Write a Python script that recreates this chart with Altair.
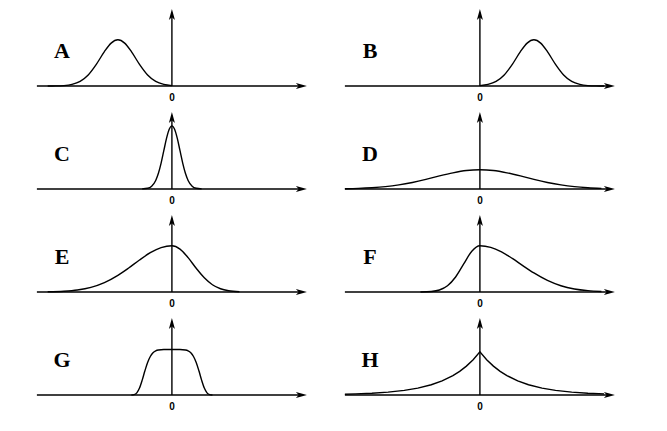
import altair as alt
import pandas as pd

# ---------------- data ----------------
panel_names = ["A", "B", "C", "D", "E", "F", "G", "H"]

A_x = [-4.6, -4.3, -4.0, -3.7, -3.4, -3.1, -2.8, -2.5, -2.25, -2.0, -1.75, -1.5, -1.2, -0.9, -0.6, -0.3, 0.0]
A_y = [0.0002, 0.001, 0.005, 0.020, 0.059, 0.143, 0.281, 0.446, 0.557, 0.6, 0.557, 0.446, 0.281, 0.143, 0.059, 0.020, 0.005]

B_x = [0.0, 0.3, 0.6, 0.9, 1.2, 1.5, 1.75, 2.0, 2.25, 2.5, 2.8, 3.1, 3.4, 3.7, 4.0, 4.3, 4.6]
B_y = [0.005, 0.020, 0.059, 0.143, 0.281, 0.446, 0.557, 0.6, 0.557, 0.446, 0.281, 0.143, 0.059, 0.020, 0.005, 0.001, 0.0002]

C_x = [-1.1, -0.9, -0.75, -0.6, -0.5, -0.4, -0.3, -0.2, -0.1, 0.0, 0.1, 0.2, 0.3, 0.4, 0.5, 0.6, 0.75, 0.9, 1.1]
C_y = [0.001, 0.009, 0.036, 0.111, 0.204, 0.337, 0.497, 0.657, 0.776, 0.82, 0.776, 0.657, 0.497, 0.337, 0.204, 0.111, 0.036, 0.009, 0.001]

D_x = [-5.0, -4.5, -4.0, -3.5, -3.0, -2.5, -2.0, -1.5, -1.0, -0.5, 0.0, 0.5, 1.0, 1.5, 2.0, 2.5, 3.0, 3.5, 4.0, 4.5]
D_y = [0.0033, 0.0075, 0.016, 0.030, 0.053, 0.085, 0.125, 0.170, 0.210, 0.240, 0.25, 0.240, 0.210, 0.170, 0.125, 0.085, 0.053, 0.030, 0.016, 0.0075]

E_x = [-4.6, -4.0, -3.5, -3.0, -2.5, -2.0, -1.6, -1.2, -0.8, -0.4, 0.0, 0.3, 0.6, 0.9, 1.2, 1.5, 1.8, 2.1, 2.5]
E_y = [0.003, 0.010, 0.026, 0.060, 0.122, 0.216, 0.312, 0.416, 0.510, 0.576, 0.6, 0.557, 0.446, 0.308, 0.184, 0.094, 0.042, 0.016, 0.0035]

F_x = [-2.2, -1.8, -1.5, -1.2, -0.9, -0.6, -0.3, 0.0, 0.4, 0.8, 1.2, 1.6, 2.0, 2.5, 3.0, 3.5, 4.0, 4.5]
F_y = [0.0007, 0.0067, 0.026, 0.081, 0.195, 0.364, 0.530, 0.6, 0.579, 0.520, 0.436, 0.340, 0.247, 0.150, 0.081, 0.039, 0.017, 0.0067]

G_x = [-1.5, -1.4, -1.3, -1.2, -1.1, -1.0, -0.9, -0.8, -0.7, -0.6, -0.5, -0.3, 0.0, 0.3, 0.5, 0.6, 0.7, 0.8, 0.9, 1.0, 1.1, 1.2, 1.3, 1.4, 1.5]
G_y = [0.0004, 0.005, 0.028, 0.090, 0.193, 0.314, 0.422, 0.500, 0.548, 0.573, 0.584, 0.590, 0.59, 0.590, 0.584, 0.573, 0.548, 0.500, 0.422, 0.314, 0.193, 0.090, 0.028, 0.005, 0.0004]

H_x = [-5.0, -4.6, -4.0, -3.4, -2.8, -2.3, -1.8, -1.4, -1.0, -0.75, -0.5, -0.25, 0.0, 0.25, 0.5, 0.75, 1.0, 1.4, 1.8, 2.3, 2.8, 3.4, 4.0, 4.6]
H_y = [0.010, 0.014, 0.023, 0.037, 0.060, 0.089, 0.133, 0.183, 0.252, 0.307, 0.375, 0.458, 0.56, 0.458, 0.375, 0.307, 0.252, 0.183, 0.133, 0.089, 0.060, 0.037, 0.023, 0.014]

curves = {
    "A": (A_x, A_y), "B": (B_x, B_y), "C": (C_x, C_y), "D": (D_x, D_y),
    "E": (E_x, E_y), "F": (F_x, F_y), "G": (G_x, G_y), "H": (H_x, H_y),
}
interpolation = {"H": "linear"}

zero_tick_label = "0"
axis_start = -5.0
axis_end = 5.0
axis_top = 1.0
letter_pos = (-4.07, 0.45)
zero_label_y = -0.16

# ---------------- layout / style ----------------
X_DOMAIN = [-6.07, 5.04]
Y_DOMAIN = [-0.234, 1.013]
PANEL_W, PANEL_H = 300, 96
LINE_W = 1.4
RIGHT_ARROW = "M 0 0 L -2 -0.55 L -1.5 0 L -2 0.55 Z"
UP_ARROW = "M 0 0 L -0.55 2 L 0 1.5 L 0.55 2 Z"


def enc(chart):
    return chart.encode(
        x=alt.X("x:Q", scale=alt.Scale(domain=X_DOMAIN), axis=None),
        y=alt.Y("y:Q", scale=alt.Scale(domain=Y_DOMAIN), axis=None),
    )


def panel(name):
    xs, ys = curves[name]
    curve = enc(alt.Chart(pd.DataFrame({"x": xs, "y": ys})).mark_line(
        color="black", strokeWidth=LINE_W,
        interpolate=interpolation.get(name, "monotone")))

    xaxis = alt.Chart(pd.DataFrame({"x": [axis_start], "x2": [axis_end - 0.2], "y": [0.0]})).mark_rule(
        color="black", strokeWidth=LINE_W).encode(
        x=alt.X("x:Q", scale=alt.Scale(domain=X_DOMAIN), axis=None),
        x2="x2:Q",
        y=alt.Y("y:Q", scale=alt.Scale(domain=Y_DOMAIN), axis=None),
    )
    yaxis = alt.Chart(pd.DataFrame({"x": [0.0], "y": [0.0], "y2": [axis_top - 0.05]})).mark_rule(
        color="black", strokeWidth=LINE_W).encode(
        x=alt.X("x:Q", scale=alt.Scale(domain=X_DOMAIN), axis=None),
        y=alt.Y("y:Q", scale=alt.Scale(domain=Y_DOMAIN), axis=None),
        y2="y2:Q",
    )
    arrow_r = enc(alt.Chart(pd.DataFrame({"x": [axis_end], "y": [0.0]})).mark_point(
        shape=RIGHT_ARROW, size=121, filled=True, color="black", opacity=1, strokeWidth=0))
    arrow_u = enc(alt.Chart(pd.DataFrame({"x": [0.0], "y": [axis_top]})).mark_point(
        shape=UP_ARROW, size=121, filled=True, color="black", opacity=1, strokeWidth=0))
    zero = enc(alt.Chart(pd.DataFrame({"x": [0.0], "y": [zero_label_y], "t": [zero_tick_label]})).mark_text(
        font="Liberation Sans", fontWeight="bold", fontSize=10, color="black",
        align="center", baseline="middle")).encode(text="t:N")
    letter = enc(alt.Chart(pd.DataFrame({"x": [letter_pos[0]], "y": [letter_pos[1]], "t": [name]})).mark_text(
        font="Liberation Serif", fontWeight="bold", fontSize=22, color="black",
        align="center", baseline="middle")).encode(text="t:N")

    return alt.layer(xaxis, yaxis, arrow_r, arrow_u, curve, zero, letter).properties(
        width=PANEL_W, height=PANEL_H)


chart = alt.concat(
    *[panel(n) for n in panel_names],
    columns=2,
    spacing={"row": 7, "column": 8},
).properties(padding=0, background="white").configure_view(stroke=None)

chart.save("out.html", embed_options={"renderer": "svg", "actions": False})
